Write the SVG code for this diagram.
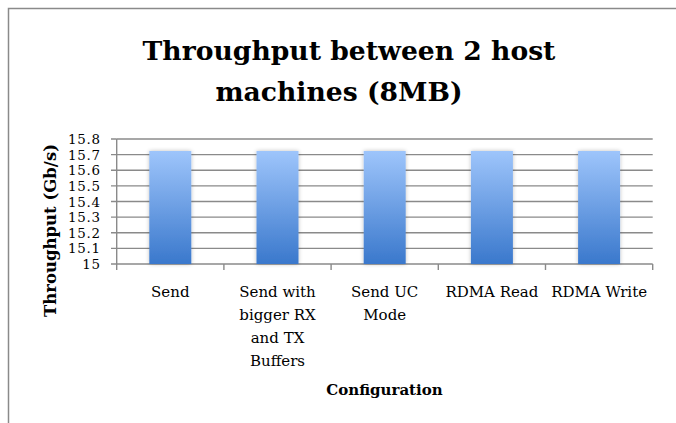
<svg xmlns="http://www.w3.org/2000/svg" width="676" height="423" viewBox="0 0 676 423">
  <defs>
    <linearGradient id="barFill" x1="0" y1="0" x2="0" y2="1">
      <stop offset="0" stop-color="#9ec5fb"/>
      <stop offset="1" stop-color="#3a78cc"/>
    </linearGradient>
    <filter id="barShadow" x="-30%" y="-10%" width="160%" height="120%">
      <feGaussianBlur in="SourceAlpha" stdDeviation="2"/>
      <feOffset dx="0" dy="0" result="blur"/>
      <feComponentTransfer><feFuncA type="linear" slope="0.25"/></feComponentTransfer>
      <feMerge><feMergeNode/><feMergeNode in="SourceGraphic"/></feMerge>
    </filter>
  </defs>
  <style>
    .frame { stroke: #8a8a8a; stroke-width: 1.5; fill: none; }
    .grid { stroke: #8a8a8a; stroke-width: 1.4; fill: none; }
    .axis { stroke: #8a8a8a; stroke-width: 1.4; fill: none; }
    .bar { fill: url(#barFill); filter: url(#barShadow); }
    .title { font-family: "DejaVu Serif", serif; font-weight: bold; font-size: 26.6px; fill: #000; text-anchor: middle; }
    .tick { font-family: "DejaVu Serif", serif; font-size: 13.4px; letter-spacing: 0.7px; fill: #000; text-anchor: end; }
    .cat { font-family: "DejaVu Serif", serif; font-size: 15px; fill: #000; text-anchor: middle; }
    .axtitle { font-family: "DejaVu Serif", serif; font-weight: bold; font-size: 15px; fill: #000; text-anchor: middle; }
    .ytitle { font-size: 16.5px; }
  </style>
  <rect width="676" height="423" fill="#ffffff"/>

  <!-- chart frame (top and left edges visible) -->
  <path class="frame" d="M8.5,423 V8.5 H676"/>

  <!-- chart title -->
  <g id="title">
    <text class="title" x="349" y="59.5">Throughput between 2 host</text>
    <text class="title" x="339" y="100.5">machines (8MB)</text>
  </g>

  <!-- horizontal gridlines 15.0 .. 15.8 -->
  <g id="gridlines">
    <line class="grid" x1="116.7" y1="139" x2="652.7" y2="139"/>
    <line class="grid" x1="116.7" y1="154.6" x2="652.7" y2="154.6"/>
    <line class="grid" x1="116.7" y1="170.3" x2="652.7" y2="170.3"/>
    <line class="grid" x1="116.7" y1="185.9" x2="652.7" y2="185.9"/>
    <line class="grid" x1="116.7" y1="201.5" x2="652.7" y2="201.5"/>
    <line class="grid" x1="116.7" y1="217.1" x2="652.7" y2="217.1"/>
    <line class="grid" x1="116.7" y1="232.8" x2="652.7" y2="232.8"/>
    <line class="grid" x1="116.7" y1="248.4" x2="652.7" y2="248.4"/>
  </g>

  <!-- axes and tick marks -->
  <g id="axes">
    <path class="axis" d="M116.7,139 V264 H652.7"/>
    <path class="axis" d="M111,139 H116.7 M111,154.6 H116.7 M111,170.3 H116.7 M111,185.9 H116.7 M111,201.5 H116.7 M111,217.1 H116.7 M111,232.8 H116.7 M111,248.4 H116.7 M111,264 H116.7"/>
    <path class="axis" d="M116.7,264 V270 M223.9,264 V270 M331.1,264 V270 M438.3,264 V270 M545.5,264 V270 M652.7,264 V270"/>
  </g>

  <!-- y tick labels -->
  <g id="y-labels">
    <text class="tick" x="100.7" y="144">15.8</text>
    <text class="tick" x="100.7" y="159.6">15.7</text>
    <text class="tick" x="100.7" y="175.3">15.6</text>
    <text class="tick" x="100.7" y="190.9">15.5</text>
    <text class="tick" x="100.7" y="206.5">15.4</text>
    <text class="tick" x="100.7" y="222.1">15.3</text>
    <text class="tick" x="100.7" y="237.8">15.2</text>
    <text class="tick" x="100.7" y="253.4">15.1</text>
    <text class="tick" x="100.7" y="269">15</text>
  </g>

  <!-- bars -->
  <g id="bar-send"><rect class="bar" x="149.3" y="151" width="42" height="113"/></g>
  <g id="bar-send-big-buffers"><rect class="bar" x="256.5" y="151" width="42" height="113"/></g>
  <g id="bar-send-uc"><rect class="bar" x="363.7" y="151" width="42" height="113"/></g>
  <g id="bar-rdma-read"><rect class="bar" x="470.9" y="151" width="42" height="113"/></g>
  <g id="bar-rdma-write"><rect class="bar" x="578.1" y="151" width="42" height="113"/></g>

  <!-- category labels -->
  <g id="x-labels">
    <text class="cat" x="170.3" y="296.5">Send</text>
    <text class="cat" x="277.5" y="296.5">Send with</text>
    <text class="cat" x="277.5" y="319.5">bigger RX</text>
    <text class="cat" x="277.5" y="342.5">and TX</text>
    <text class="cat" x="277.5" y="365.5">Buffers</text>
    <text class="cat" x="384.7" y="296.5">Send UC</text>
    <text class="cat" x="384.7" y="319.5">Mode</text>
    <text class="cat" x="491.9" y="296.5">RDMA Read</text>
    <text class="cat" x="599.1" y="296.5">RDMA Write</text>
  </g>

  <!-- axis titles -->
  <g id="axis-titles">
    <text class="axtitle" x="384.5" y="395">Configuration</text>
    <text class="axtitle ytitle" transform="translate(55.5,230.5) rotate(-90)" x="0" y="0">Throughput (Gb/s)</text>
  </g>
</svg>
